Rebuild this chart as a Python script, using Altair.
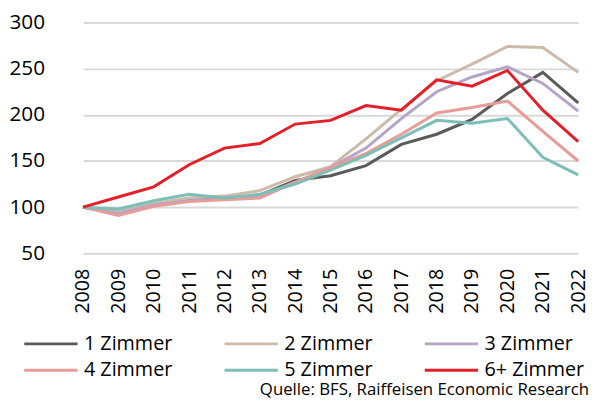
import altair as alt
import pandas as pd

years = list(range(2008, 2023))
z1 = [100, 94, 103, 108, 109, 113, 129, 134, 145, 168, 179, 195, 223, 246, 213]
z2 = [100, 95, 104, 110, 112, 118, 133, 144, 174, 206, 237, 255, 274, 273, 246]
z3 = [100, 93, 102, 107, 109, 112, 127, 143, 164, 196, 225, 241, 252, 234, 204]
z4 = [100, 91, 101, 106, 108, 110, 127, 143, 158, 179, 202, 208, 215, 182, 150]
z5 = [100, 98, 107, 114, 110, 114, 125, 140, 156, 175, 194, 191, 196, 154, 135]
z6 = [100, 111, 122, 146, 164, 169, 190, 194, 210, 205, 238, 231, 248, 205, 171]

series_names = ["1 Zimmer", "2 Zimmer", "3 Zimmer", "4 Zimmer", "5 Zimmer", "6+ Zimmer"]
series_vals = [z1, z2, z3, z4, z5, z6]
colors = ["#5a5a5a", "#cbbba8", "#b5a3c8", "#e89c98", "#7cbfb6", "#e3202a"]
source = "Quelle: BFS, Raiffeisen Economic Research"

rows = []
for name, vals in zip(series_names, series_vals):
    for y, v in zip(years, vals):
        rows.append({"Jahr": str(y), "Index": v, "Serie": name})
df = pd.DataFrame(rows)

FONT = "Open Sans"

lines = alt.Chart(df).mark_line(strokeWidth=3).encode(
    x=alt.X("Jahr:O", scale=alt.Scale(type="point", padding=0, range=[17, 519]),
            axis=alt.Axis(title=None, labelAngle=-90, labelFontSize=20, labelFont=FONT,
                          labelColor="#000000", ticks=False, domain=False, labelPadding=15)),
    y=alt.Y("Index:Q", scale=alt.Scale(domain=[50, 300], nice=False, zero=False),
            axis=alt.Axis(title=None, values=[50, 100, 150, 200, 250, 300], labelFontSize=21,
                          labelFont=FONT, labelColor="#000000", ticks=False, domain=False,
                          labelPadding=22, gridColor="#d9d9d9", gridWidth=2)),
    color=alt.Color("Serie:N", scale=alt.Scale(domain=series_names, range=colors),
                    legend=alt.Legend(title=None, orient="none", legendX=-27, legendY=314,
                                      direction="horizontal",
                                      columns=3, symbolType="M-2.7,0H2.7", symbolSize=400,
                                      symbolStrokeWidth=3, labelFontSize=20, labelFont=FONT,
                                      labelColor="#000000", columnPadding=46, rowPadding=5,
                                      labelOffset=22, labelLimit=300)),
)

src = alt.Chart(pd.DataFrame({"t": [source]})).mark_text(
    align="right", baseline="middle", fontSize=17, font=FONT, color="#000000"
).encode(text="t:N", x=alt.value(530), y=alt.value(373))

chart = alt.layer(lines, src).properties(
    width=533, height=234,
    padding={"left": 59, "top": 12, "right": 0, "bottom": 149},
    autosize=alt.AutoSizeParams(type="none"),
).configure_view(stroke=None)

chart.save("out.html", embed_options={"renderer": "svg", "actions": False})
